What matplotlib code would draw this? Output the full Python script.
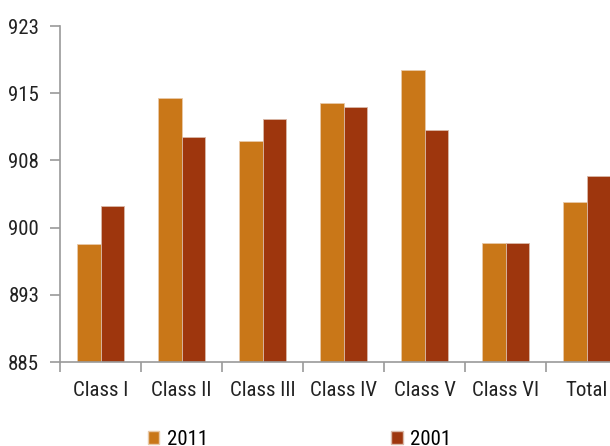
import matplotlib
matplotlib.use("Agg")
import matplotlib.pyplot as plt
from matplotlib.patches import Patch
import numpy as np

categories = ["Class I", "Class II", "Class III", "Class IV", "Class V", "Class VI", "Total"]
values_2011 = [898.2, 914.5, 909.7, 913.9, 917.6, 898.3, 902.9]
values_2001 = [902.4, 910.1, 912.1, 913.5, 910.9, 898.3, 905.8]
yticks = [885, 892.5, 900, 907.5, 915, 922.5]
ytick_labels = ["885", "893", "900", "908", "915", "923"]
series_names = ["2011", "2001"]

c2011 = "#C97718"
c2001 = "#9E360D"
grey = "#9A9A9A"

plt.rcParams['font.family'] = ['Roboto Condensed', 'Archivo Narrow', 'Asap Condensed', 'DejaVu Sans']

fig = plt.figure(figsize=(6.10, 4.46), dpi=100)
ax = fig.add_axes([60/610, 84/446, 567/610, 336/446])

x = np.arange(len(categories))
w = 0.29
ax.bar(x - w/2, values_2011, width=w, color=c2011, edgecolor="#E8C9A8", linewidth=0.6)
ax.bar(x + w/2, values_2001, width=w, color=c2001, edgecolor="#D9B9A8", linewidth=0.6)

ax.set_ylim(885, 922.5)
ax.set_xlim(-0.5, len(categories) - 0.5)
ax.set_yticks(yticks)
ax.set_yticklabels(ytick_labels)
ax.set_xticks(x)
ax.set_xticklabels(categories)
ax.set_xticks(np.arange(len(categories) + 1) - 0.5, minor=True)
ax.tick_params(axis='x', which='major', length=0, pad=14, labelsize=15, colors="#222222")
ax.tick_params(axis='x', which='minor', length=7, width=1.2, color=grey, direction='out')
ax.tick_params(axis='y', length=7, width=1.2, color=grey, direction='out', labelsize=15, labelcolor="#222222", pad=8)

for s in ["top", "right"]:
    ax.spines[s].set_visible(False)
for s in ["left", "bottom"]:
    ax.spines[s].set_color(grey)
    ax.spines[s].set_linewidth(1.2)

handles = [Patch(facecolor=c2011, edgecolor="#E8C9A8"), Patch(facecolor=c2001, edgecolor="#D9B9A8")]
fig.legend(handles, series_names, loc='upper left', bbox_to_anchor=(148/610, 1 - 430/446),
           ncol=2, frameon=False, handlelength=0.55, handleheight=0.55, handletextpad=0.35,
           columnspacing=8.8, fontsize=15, borderaxespad=0, borderpad=0)

fig.savefig("out.png", dpi=100)
